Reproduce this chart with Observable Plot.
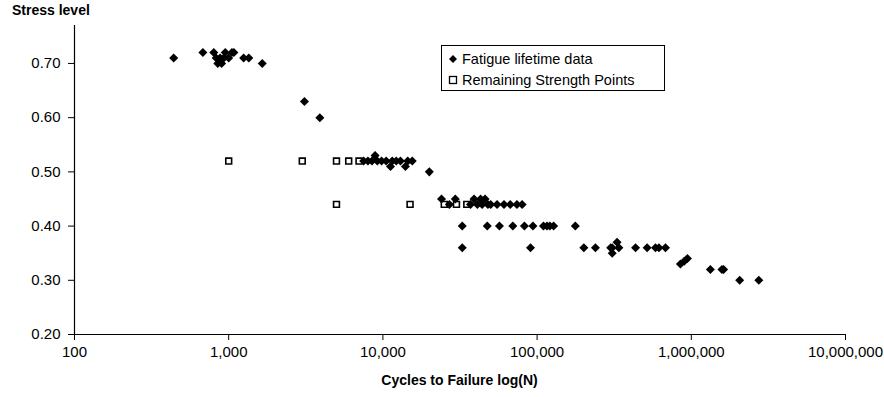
<!DOCTYPE html>
<html>
<head>
<meta charset="utf-8">
<script src="https://cdn.jsdelivr.net/npm/d3@7"></script>
<script src="https://cdn.jsdelivr.net/npm/@observablehq/plot@0.6"></script>
<style>
  html, body { margin: 0; padding: 0; background: #fff; }
  #wrap { position: relative; width: 884px; height: 397px; font-family: "Liberation Sans", Arial, sans-serif; color: #000; }
  .ttl { position: absolute; font-weight: bold; font-size: 14px; white-space: nowrap; }
  #legend { position: absolute; left: 441px; top: 45px; width: 224px; height: 46px; border: 1px solid #000; box-sizing: border-box; font-size: 14.5px; }
  #legend .row { position: absolute; left: 6px; display: flex; align-items: center; white-space: nowrap; }
  #legend svg { margin-right: 4px; }
</style>
</head>
<body>
<div id="wrap">
  <div class="ttl" style="left:12px; top:2px;">Stress level</div>
  <div class="ttl" style="left:0; width:919px; text-align:center; top:372px;">Cycles to Failure log(N)</div>
  <div id="legend">
    <div class="row" style="top:5px;"><svg width="10" height="10"><path d="M5,1L9,5L5,9L1,5Z" fill="#000"/></svg>Fatigue lifetime data</div>
    <div class="row" style="top:26px;"><svg width="10" height="10"><rect x="1.5" y="1.5" width="7" height="7" fill="#fff" stroke="#000" stroke-width="1.3"/></svg>Remaining Strength Points</div>
  </div>
</div>
<script>
// Fatigue lifetime data: cycles to failure and stress level
const fatigueN = [
  440, 680, 800, 830, 850, 880, 900, 930, 950, 1000, 1050, 1080, 1250, 1350, 1650,
  3100, 3900,
  7500, 8000, 8500, 8900, 9200, 9800, 10500, 11200, 11500, 12200, 13000, 14000, 14500, 15500,
  20000,
  24000, 27000, 29500, 37000, 39000, 41000, 43000, 44000, 46000, 48000, 50000, 55000, 61000, 67000, 74000, 80000,
  32700, 47500, 57000, 69600, 82800, 94000, 110000, 116000, 121000, 128000, 177000,
  32700, 90600, 201000, 239000, 300000, 307000, 339000, 435000, 517000, 586000, 617000, 680000, 330000, 307000,
  850000, 900000, 944000,
  1330000, 1580000, 1620000,
  2060000, 2740000
];
const fatigueStress = [
  0.71, 0.72, 0.72, 0.71, 0.70, 0.71, 0.70, 0.71, 0.72, 0.71, 0.72, 0.72, 0.71, 0.71, 0.70,
  0.63, 0.60,
  0.52, 0.52, 0.52, 0.53, 0.52, 0.52, 0.52, 0.51, 0.52, 0.52, 0.52, 0.51, 0.52, 0.52,
  0.50,
  0.45, 0.44, 0.45, 0.44, 0.45, 0.44, 0.45, 0.44, 0.45, 0.44, 0.44, 0.44, 0.44, 0.44, 0.44, 0.44,
  0.40, 0.40, 0.40, 0.40, 0.40, 0.40, 0.40, 0.40, 0.40, 0.40, 0.40,
  0.36, 0.36, 0.36, 0.36, 0.36, 0.36, 0.36, 0.36, 0.36, 0.36, 0.36, 0.36, 0.37, 0.35,
  0.33, 0.335, 0.34,
  0.32, 0.32, 0.32,
  0.30, 0.30
];
// Remaining strength points
const strengthN = [1000, 3000, 5000, 6000, 7000, 5000, 15000, 25000, 30000, 35000];
const strengthStress = [0.52, 0.52, 0.52, 0.52, 0.52, 0.44, 0.44, 0.44, 0.44, 0.44];

const xTicks = [100, 1000, 10000, 100000, 1000000, 10000000];
const yTicks = [0.20, 0.30, 0.40, 0.50, 0.60, 0.70];

const fatigue = fatigueN.map((n, i) => ({n, s: fatigueStress[i]}));
const strength = strengthN.map((n, i) => ({n, s: strengthStress[i]}));

const chart = Plot.plot({
  width: 884,
  height: 397,
  marginLeft: 74,
  marginRight: 39,
  marginTop: 25,
  marginBottom: 63,
  style: {fontFamily: "'Liberation Sans', Arial, sans-serif", fontSize: "15px", color: "#000", background: "transparent"},
  x: {type: "log", domain: [100, 10000000]},
  y: {domain: [0.2, 0.77]},
  marks: [
    Plot.axisX({ticks: xTicks, tickFormat: d3.format(","), tickSize: 6, tickPadding: 6, label: null, fontSize: 15, stroke: "#000"}),
    Plot.axisY({ticks: yTicks, tickFormat: d3.format(".2f"), tickSize: 6, tickPadding: 8, label: null, fontSize: 15, stroke: "#000"}),
    Plot.ruleX([100], {y1: 0.2, y2: 0.77, stroke: "#000", strokeWidth: 1.2}),
    Plot.ruleY([0.2], {stroke: "#000", strokeWidth: 1.2}),
    Plot.dot(strength, {x: "n", y: "s", symbol: "square", r: 3.3, fill: "#fff", stroke: "#000", strokeWidth: 1.6}),
    Plot.dot(fatigue, {x: "n", y: "s", symbol: "square", rotate: 45, r: 3.6, fill: "#000", stroke: "none"})
  ]
});
chart.style.position = "absolute";
chart.style.left = "0";
chart.style.top = "0";
document.getElementById("wrap").appendChild(chart);
document.getElementById("wrap").appendChild(document.getElementById("legend"));
</script>
</body>
</html>
